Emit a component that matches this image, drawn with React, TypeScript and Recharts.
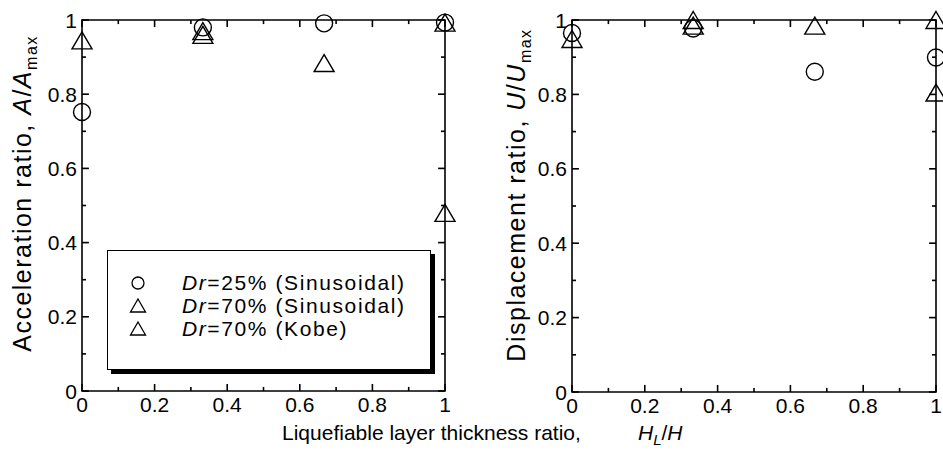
import React from 'react';
import { ScatterChart, Scatter, XAxis, YAxis, Legend, Label, ReferenceArea } from 'recharts';

// ---- data ----
const axisTicks = [0, 0.1, 0.2, 0.3, 0.4, 0.5, 0.6, 0.7, 0.8, 0.9, 1];

const seriesNames = ['Dr=25% (Sinusoidal)', 'Dr=70% (Sinusoidal)', 'Dr=70% (Kobe)'];

const accDr25Sin = [
  { x: 0, y: 0.752 },
  { x: 0.333, y: 0.98 },
  { x: 0.667, y: 0.991 },
  { x: 1, y: 0.993 },
];
const accDr70Sin = [
  { x: 0, y: 0.945 },
  { x: 0.333, y: 0.97 },
  { x: 0.667, y: 0.884 },
  { x: 1, y: 0.993 },
];
const accDr70Kobe = [
  { x: 0.333, y: 0.96 },
  { x: 1, y: 0.48 },
];

const dispDr25Sin = [
  { x: 0, y: 0.965 },
  { x: 0.333, y: 0.977 },
  { x: 0.667, y: 0.861 },
  { x: 1, y: 0.899 },
];
const dispDr70Sin = [
  { x: 0, y: 0.949 },
  { x: 0.333, y: 1.0 },
  { x: 0.667, y: 0.985 },
  { x: 1, y: 1.0 },
];
const dispDr70Kobe = [
  { x: 0.333, y: 0.985 },
  { x: 1, y: 0.805 },
];

// ---- styling helpers ----
const FONT = '"Liberation Sans", Arial, Helvetica, sans-serif';
const INK = '#000';

const isMajor = (v: number) => Math.round(v * 10) % 2 === 0;
const fmt = (v: number) => {
  const r = Math.round(v * 10);
  if (r === 0) return '0';
  if (r === 10) return '1';
  return (r / 10).toFixed(1);
};
// tick mark extents, in axis units (inward ticks)
const TICK_MAJOR = 0.019;
const TICK_MINOR = 0.011;
const TICK_HALF_W = 0.0022;
const tickLen = (v: number) => (isMajor(v) ? TICK_MAJOR : TICK_MINOR);

const CircleMark = (props: any) => {
  const { cx, cy } = props;
  if (cx == null || cy == null) return <g />;
  return <circle cx={cx} cy={cy} r={8.5} fill="none" stroke={INK} strokeWidth={1.4} />;
};
const TriangleMark = (props: any) => {
  const { cx, cy } = props;
  if (cx == null || cy == null) return <g />;
  const w = 10;
  const h = 8.5;
  return (
    <polygon
      points={`${cx},${cy - h} ${cx + w},${cy + h} ${cx - w},${cy + h}`}
      fill="none"
      stroke={INK}
      strokeWidth={1.4}
    />
  );
};

const BottomLabel = (props: any) => {
  const { x, y, payload } = props;
  const v = payload.value;
  if (!isMajor(v)) return <g />;
  return (
    <text x={x} y={y + 21} textAnchor="middle" fontSize={21} fontFamily={FONT} fill={INK}>
      {fmt(v)}
    </text>
  );
};
const LeftLabel = (props: any) => {
  const { x, y, payload } = props;
  const v = payload.value;
  if (!isMajor(v)) return <g />;
  return (
    <text x={x - 5} y={y + 7.5} textAnchor="end" fontSize={21} fontFamily={FONT} fill={INK}>
      {fmt(v)}
    </text>
  );
};

const makeYTitle = (main: string, sym: string, baselineX: number, shift: number) => (props: any) => {
  const vb = props.viewBox || { x: 0, y: 20, width: 80, height: 372 };
  const bx = (vb.x || 0) + baselineX;
  const cy = (vb.y || 20) + (vb.height || 372) / 2 - shift;
  return (
    <text
      transform={`rotate(-90, ${bx}, ${cy})`}
      x={bx}
      y={cy}
      textAnchor="middle"
      fontSize={25}
      letterSpacing={1.5}
      fontFamily={FONT}
      fill={INK}
    >
      {main}
      <tspan fontStyle="italic">{sym}</tspan>/<tspan fontStyle="italic">{sym}</tspan>
      <tspan fontSize={16} dy={6}>max</tspan>
    </text>
  );
};

const LegendBox = () => {
  const glyph = (i: number) =>
    i === 0 ? (
      <circle cx={10} cy={10} r={6} fill="none" stroke={INK} strokeWidth={1.3} />
    ) : (
      <polygon points="10,3 17.5,16 2.5,16" fill="none" stroke={INK} strokeWidth={1.3} />
    );
  return (
    <div
      style={{
        width: 324,
        height: 120,
        border: '1px solid #000',
        boxShadow: '4px 4px 0 #000',
        background: '#fff',
        boxSizing: 'border-box',
        position: 'relative',
        fontFamily: FONT,
      }}
    >
      {seriesNames.map((name, i) => {
        const rest = name.replace(/^Dr/, '');
        return (
          <div
            key={name}
            style={{
              position: 'absolute',
              left: 20,
              top: 20 + i * 23,
              height: 24,
              display: 'flex',
              alignItems: 'center',
              whiteSpace: 'nowrap',
            }}
          >
            <svg width={20} height={20} style={{ marginRight: 34 }}>
              {glyph(i)}
            </svg>
            <span style={{ fontSize: 21, letterSpacing: 1.6, lineHeight: '24px', color: INK }}>
              <i>Dr</i>
              {rest}
            </span>
          </div>
        );
      })}
    </div>
  );
};

const common = {
  type: 'number' as const,
  domain: [0, 1] as [number, number],
  ticks: axisTicks,
  interval: 0 as const,
  tickSize: 0,
  tickMargin: 0,
  axisLine: false,
  tickLine: false,
};

const tickArea = {
  xAxisId: 'b',
  yAxisId: 'l',
  ifOverflow: 'visible' as const,
  fill: INK,
  fillOpacity: 1,
  stroke: 'none',
};

const Panel = ({ width, right, yAxisWidth, xAxisHeight, title, series, withLegend }: any) => (
  <ScatterChart width={width} height={464} margin={{ top: 20, right, bottom: 0, left: 0 }}>
    <XAxis xAxisId="b" dataKey="x" {...common} height={xAxisHeight} tick={<BottomLabel />} />
    <YAxis yAxisId="l" dataKey="y" {...common} width={yAxisWidth} tick={<LeftLabel />}>
      <Label content={title} />
    </YAxis>
    <ReferenceArea
      xAxisId="b"
      yAxisId="l"
      x1={0}
      x2={1}
      y1={0}
      y2={1}
      fill="none"
      fillOpacity={0}
      stroke={INK}
      strokeWidth={1.6}
      strokeOpacity={1}
    />
    {axisTicks.map((v) => (
      <ReferenceArea key={`b${v}`} {...tickArea} x1={v - TICK_HALF_W} x2={v + TICK_HALF_W} y1={0} y2={tickLen(v)} />
    ))}
    {axisTicks.map((v) => (
      <ReferenceArea key={`t${v}`} {...tickArea} x1={v - TICK_HALF_W} x2={v + TICK_HALF_W} y1={1 - tickLen(v)} y2={1} />
    ))}
    {axisTicks.map((v) => (
      <ReferenceArea key={`l${v}`} {...tickArea} x1={0} x2={tickLen(v)} y1={v - TICK_HALF_W} y2={v + TICK_HALF_W} />
    ))}
    {axisTicks.map((v) => (
      <ReferenceArea key={`r${v}`} {...tickArea} x1={1 - tickLen(v)} x2={1} y1={v - TICK_HALF_W} y2={v + TICK_HALF_W} />
    ))}
    {withLegend && (
      <Legend
        layout="horizontal"
        verticalAlign="middle"
        align="center"
        content={<LegendBox />}
        wrapperStyle={{ left: 107, top: 250, width: 324, height: 120 }}
      />
    )}
    <Scatter name={seriesNames[0]} data={series[0]} xAxisId="b" yAxisId="l" shape={<CircleMark />} isAnimationActive={false} />
    <Scatter name={seriesNames[1]} data={series[1]} xAxisId="b" yAxisId="l" shape={<TriangleMark />} isAnimationActive={false} />
    <Scatter name={seriesNames[2]} data={series[2]} xAxisId="b" yAxisId="l" shape={<TriangleMark />} isAnimationActive={false} />
  </ScatterChart>
);

export default function App() {
  return (
    <div style={{ position: 'absolute', left: 0, top: 0, width: 943, height: 464, background: '#fff' }}>
      <div style={{ position: 'absolute', left: 0, top: 0 }}>
        <Panel
          width={470}
          right={25}
          yAxisWidth={82}
          xAxisHeight={73}
          title={makeYTitle('Acceleration ratio, ', 'A', 31, 12)}
          series={[accDr25Sin, accDr70Sin, accDr70Kobe]}
          withLegend
        />
      </div>
      <div style={{ position: 'absolute', left: 470, top: 0 }}>
        <Panel
          width={473}
          right={7}
          yAxisWidth={102}
          xAxisHeight={72}
          title={makeYTitle('Displacement ratio, ', 'U', 55, 11)}
          series={[dispDr25Sin, dispDr70Sin, dispDr70Kobe]}
        />
      </div>
      <svg width={943} height={464} style={{ position: 'absolute', left: 0, top: 0, pointerEvents: 'none' }}>
        <text x={282} y={440} fontSize={21} fontFamily={FONT} fill={INK}>
          Liquefiable layer thickness ratio,
          <tspan x={638} fontStyle="italic">H</tspan>
          <tspan fontStyle="italic" fontSize={15} dy={5}>L</tspan>
          <tspan dy={-5}>/</tspan>
          <tspan fontStyle="italic">H</tspan>
        </text>
      </svg>
    </div>
  );
}
